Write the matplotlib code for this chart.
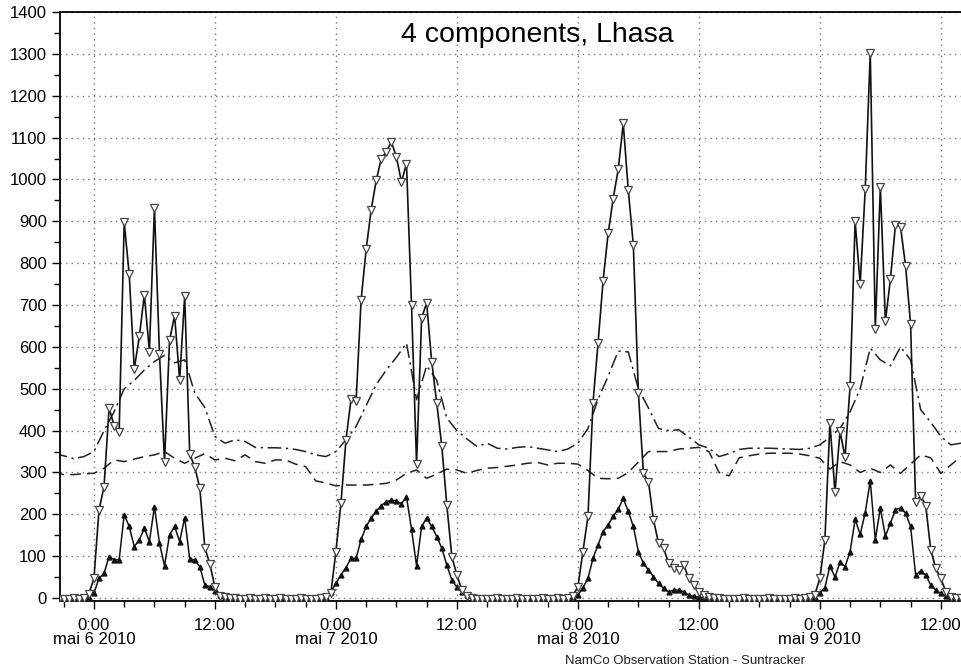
import matplotlib
matplotlib.use("Agg")
import matplotlib.pyplot as plt
import matplotlib.dates as mdates
import pandas as pd

plt.rcParams['font.family'] = ['Liberation Sans', 'DejaVu Sans']

# half-hourly shortwave data (W/m2), 5 May 20:30 -> 9 May 14:00
t_sw = pd.date_range("2010-05-05 20:30", "2010-05-09 14:00", freq="30min")

sw_global = [
    -2, -3, -2, -1, -2, 0,
    # 6 May
    10, 47, 210, 266, 454, 412, 396, 898, 773, 547, 625, 725, 589, 932,
    584, 325, 616, 675, 521, 721, 344, 313, 263, 120, 81, 26, 6, 2,
    1, -1, -3, -2, -1, -2, -3, -1, -2, -2, -1, -3, -2, -2, -1, -2, -3, -2, -1,
    # 7 May
    2, 12, 111, 227, 378, 475, 470, 713, 833, 928, 998, 1050, 1066, 1090, 1054,
    994, 1038, 699, 320, 669, 705, 565, 466, 364, 222, 99, 55, 19, 4,
    -1, -2, -3, -2, -2, -1, -2, -3, -2, -1, -2, -2, -3, -2, -1, -2, -2, -1, -2, -1, 5,
    # 8 May
    27, 111, 195, 467, 609, 758, 871, 954, 1024, 1134, 974, 844, 491,
    298, 278, 187, 131, 119, 83, 71, 67, 79, 47, 31, 15, 7,
    3, 1, -1, -2, -2, -3, -2, -1, -2, -2, -3, -2, -1, -2, -2, -3, -2, -1, -2, -1, 3,
    # 9 May
    8, 47, 139, 418, 253, 398, 337, 506, 900, 750, 976, 1303, 643, 983, 661,
    762, 892, 887, 794, 655, 230, 245, 221, 115, 71, 47, 15, 3, 1, 0,
]

sw_diffuse = [
    0, -1, 0, 1, 0, 1,
    3, 12, 47, 59, 99, 92, 91, 199, 171, 123, 139, 167, 135, 218,
    131, 77, 151, 171, 135, 192, 93, 91, 75, 31, 27, 17, 7, 3,
    2, 1, 0, 1, 0, 0, 1, 0, 1, 0, 0, 1, 0, 1, 0, 0, 1, 0, 1,
    3, 15, 35, 55, 73, 95, 95, 140, 171, 191, 207, 221, 230, 234, 232,
    225, 242, 164, 77, 171, 191, 171, 147, 119, 79, 43, 26, 15, 7,
    4, 2, 1, 0, 1, 0, 1, 0, 0, 1, 0, 1, 0, 0, 1, 0, 1, 0, 1, 0, 2,
    7, 25, 47, 95, 127, 159, 175, 195, 212, 238, 207, 171, 111,
    83, 67, 51, 35, 23, 15, 19, 19, 15, 7, 4, 2, 1,
    1, 0, 1, 0, 0, 1, 0, 1, 0, 0, 1, 0, 0, 1, 0, 1, 0, 0, 1, 0, 2,
    3, 12, 25, 77, 50, 86, 75, 111, 188, 152, 204, 280, 139, 215, 148,
    179, 211, 215, 203, 171, 55, 65, 55, 31, 19, 11, 5, 2, 1, 0,
]

# hourly longwave data (W/m2), 5 May 20:00 -> 9 May 14:00
t_lw = pd.date_range("2010-05-05 20:00", "2010-05-09 14:00", freq="h")

lw_up = [
    345, 340, 333, 338,
    350, 400, 445, 500, 520, 545, 565, 580, 562, 569, 490, 455,
    386, 370, 378, 374, 360, 359, 359, 358, 355, 350, 342, 338,
    350, 378, 410, 460, 510, 545, 575, 609, 474, 555, 520, 430,
    400, 380, 362, 370, 358, 356, 360, 362, 358, 354, 350, 356,
    370, 405, 475, 530, 590, 588, 500, 454, 405, 400, 402, 385,
    366, 358, 338, 345, 355, 358, 358, 358, 357, 356, 355, 358,
    366, 385, 405, 445, 500, 597, 569, 555, 600, 569, 450, 420,
    386, 366, 370,
]

lw_down = [
    300, 295, 295, 297,
    298, 310, 330, 326, 332, 338, 342, 350, 334, 322, 334, 345,
    330, 334, 328, 342, 326, 322, 330, 330, 320, 314, 280, 275,
    268, 270, 270, 270, 272, 274, 282, 298, 306, 286, 296, 308,
    306, 298, 305, 310, 312, 315, 318, 322, 324, 318, 322, 322,
    320, 305, 286, 285, 286, 300, 325, 350, 350, 350, 356, 358,
    360, 350, 300, 292, 335, 340, 344, 346, 346, 346, 344, 340,
    334, 308, 326, 318, 300, 310, 300, 318, 298, 320, 342, 335,
    298, 318, 338,
]

day_labels = {6: "mai 6 2010", 7: "mai 7 2010", 8: "mai 8 2010", 9: "mai 9 2010"}

fig = plt.figure(figsize=(9.61, 6.69), dpi=100)
ax = fig.add_axes([60 / 961, 68 / 669, 901 / 961, 589 / 669])

ax.plot(t_lw, lw_up, color="#222222", lw=1.1, ls=(0, (9, 3, 1.5, 3)), zorder=2)
ax.plot(t_lw, lw_down, color="#222222", lw=1.1, ls=(0, (7, 4)), zorder=2)
ax.plot(t_sw, sw_diffuse, color="#111111", lw=1.1, marker="^", ms=3.5,
        mfc="#111111", mec="#111111", zorder=3)
ax.plot(t_sw, sw_global, color="#111111", lw=1.2, marker="v", ms=5.5,
        mfc="white", mec="#444444", mew=0.9, zorder=4)

ax.set_xlim(pd.Timestamp("2010-05-05 20:38"), pd.Timestamp("2010-05-09 14:00"))
ax.set_ylim(-7, 1400)

ax.set_yticks(range(0, 1401, 100))
ax.set_yticks(range(50, 1400, 100), minor=True)
ax.xaxis.set_major_locator(mdates.HourLocator(byhour=[0, 12]))
ax.xaxis.set_minor_locator(mdates.HourLocator(byhour=[3, 6, 9, 15, 18, 21]))


def fmt_time(x, pos):
    d = mdates.num2date(x)
    if d.hour == 0:
        return "0:00\n" + day_labels.get(d.day, "")
    return "12:00"


ax.xaxis.set_major_formatter(plt.FuncFormatter(fmt_time))

ax.grid(True, which="major", color="#777777", ls=(0, (1, 3)), lw=1.0)
ax.tick_params(axis="both", which="major", length=6, width=1, labelsize=12, direction="out")
ax.tick_params(axis="both", which="minor", length=4, width=1, direction="out")
ax.tick_params(axis="x", pad=6)
for lab in ax.get_xticklabels():
    lab.set_linespacing(0.95)
for s in ["left", "bottom", "top"]:
    ax.spines[s].set_linewidth(1.3)
ax.spines["right"].set_visible(False)

fig.text(537 / 961, 1 - 35 / 669, "4 components, Lhasa", fontsize=20.5,
         ha="center", va="center")
fig.text(565 / 961, 1 - 667 / 669, "NamCo Observation Station - Suntracker",
         fontsize=9.5, ha="left", va="bottom", color="#222222")

plt.savefig("out.png", dpi=100)
